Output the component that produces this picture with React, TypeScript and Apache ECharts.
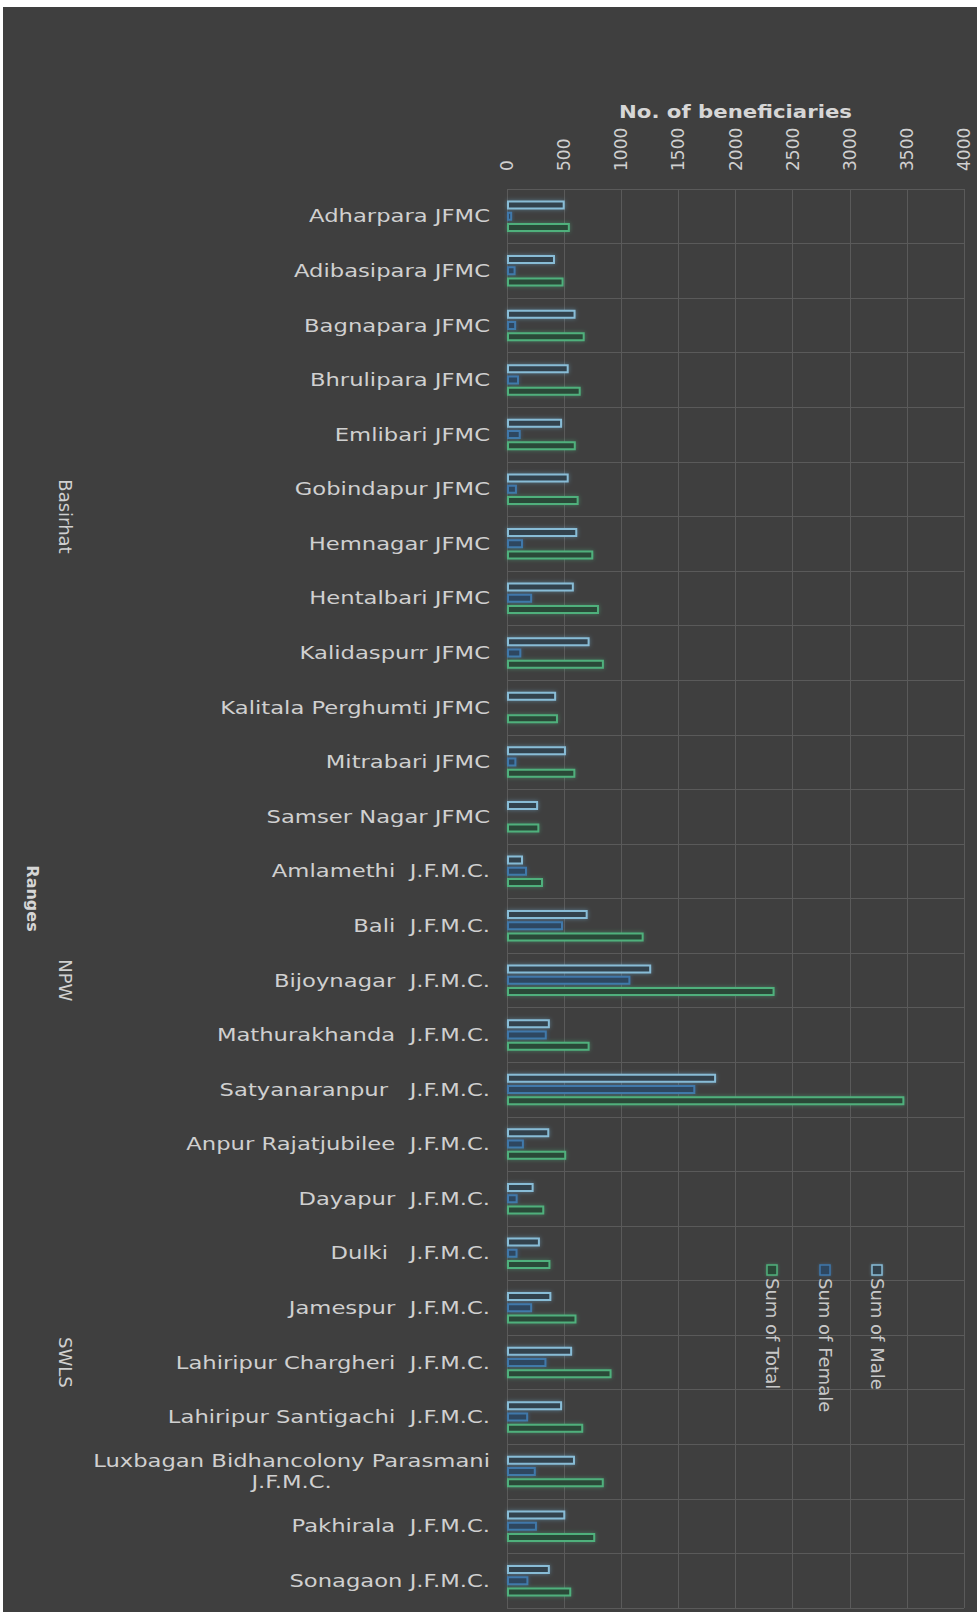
import React, { useEffect, useRef } from 'react';
import * as echarts from 'echarts';

// Joint Forest Management Committees, grouped by range
const categories = [
  'Adharpara JFMC',
  'Adibasipara JFMC',
  'Bagnapara JFMC',
  'Bhrulipara JFMC',
  'Emlibari JFMC',
  'Gobindapur JFMC',
  'Hemnagar JFMC',
  'Hentalbari JFMC',
  'Kalidaspurr JFMC',
  'Kalitala Perghumti JFMC',
  'Mitrabari JFMC',
  'Samser Nagar JFMC',
  'Amlamethi  J.F.M.C.',
  'Bali  J.F.M.C.',
  'Bijoynagar  J.F.M.C.',
  'Mathurakhanda  J.F.M.C.',
  'Satyanaranpur   J.F.M.C.',
  'Anpur Rajatjubilee  J.F.M.C.',
  'Dayapur  J.F.M.C.',
  'Dulki   J.F.M.C.',
  'Jamespur  J.F.M.C.',
  'Lahiripur Chargheri  J.F.M.C.',
  'Lahiripur Santigachi  J.F.M.C.',
  'Luxbagan Bidhancolony Parasmani\nJ.F.M.C.',
  'Pakhirala  J.F.M.C.',
  'Sonagaon J.F.M.C.',
];

const rangeNames = ['Basirhat', 'NPW', 'SWLS'];
const rangeSizes = [12, 5, 9];

const maleValues = [505, 420, 600, 540, 482, 540, 615, 585, 723, 430, 516, 272, 140, 706, 1262, 375, 1830, 370, 233, 288, 388, 570, 482, 595, 510, 375];
const femaleValues = [45, 75, 80, 105, 120, 87, 140, 220, 125, 16, 82, 11, 175, 490, 1080, 348, 1648, 148, 93, 92, 220, 345, 185, 252, 262, 187];
const totalValues = [550, 495, 680, 645, 602, 627, 755, 805, 848, 446, 598, 283, 315, 1196, 2342, 723, 3478, 518, 326, 380, 608, 915, 667, 847, 772, 562];

const seriesNames = ['Sum of Male', 'Sum of Female', 'Sum of Total'];

const axisMin = 0;
const axisMax = 4000;
const axisStep = 500;

const FONT = '"DejaVu Sans", "Noto Sans", sans-serif';
const TEXT = '#d0d0d0';

const seriesStyles = [
  { fill: '#33434e', stroke: '#88bcd6', glow: 'rgba(120,190,230,0.45)' },
  { fill: '#2f4760', stroke: '#3f78aa', glow: 'rgba(70,130,190,0.45)' },
  { fill: '#2c4838', stroke: '#4fb07c', glow: 'rgba(80,190,130,0.45)' },
];

export default function App() {
  const ref = useRef<HTMLDivElement>(null);

  useEffect(() => {
    const chart = echarts.init(ref.current!, null, { renderer: 'svg' });
    const seriesData = [maleValues, femaleValues, totalValues];

    chart.setOption({
      animation: false,
      backgroundColor: '#3f3f3f',
      grid: { left: 504, right: 13, top: 182, bottom: 4, containLabel: false },
      legend: { show: false },
      xAxis: {
        type: 'value',
        position: 'top',
        min: axisMin,
        max: axisMax,
        interval: axisStep,
        axisLine: { show: false },
        axisTick: { show: false },
        axisLabel: {
          rotate: -90,
          margin: 18,
          color: TEXT,
          fontSize: 17,
          fontFamily: FONT,
          formatter: (v: number) => String(v),
        },
        splitLine: { show: true, lineStyle: { color: '#5a5a5a', width: 1 } },
      },
      yAxis: {
        type: 'category',
        data: categories,
        inverse: true,
        axisLine: { show: false },
        axisTick: { show: false },
        axisLabel: { show: false },
        splitLine: { show: true, lineStyle: { color: '#5a5a5a', width: 1 } },
      },
      series: seriesNames.map((name, i) => ({
        type: 'bar',
        name,
        data: seriesData[i],
        barWidth: 9,
        barGap: '25%',
        silent: true,
        itemStyle: {
          color: seriesStyles[i].fill,
          borderColor: seriesStyles[i].stroke,
          borderWidth: 2,
          shadowBlur: 4,
          shadowColor: seriesStyles[i].glow,
        },
      })),
    });

    // Labels positioned from the axes' own scales
    const x0 = chart.convertToPixel({ xAxisIndex: 0 }, axisMin) as number;
    const x1 = chart.convertToPixel({ xAxisIndex: 0 }, axisMax) as number;
    const yOf = (i: number) => chart.convertToPixel({ yAxisIndex: 0 }, i) as number;
    const band = yOf(1) - yOf(0);
    const gridTop = yOf(0) - band / 2;
    const gridBottom = yOf(categories.length - 1) + band / 2;

    const graphics: any[] = [];

    graphics.push({
      type: 'text',
      x: (x0 + x1) / 2,
      y: 105,
      scaleX: 1.25,
      style: {
        text: 'No. of beneficiaries',
        align: 'center',
        verticalAlign: 'middle',
        font: `bold 17px ${FONT}`,
        fill: '#d6d6d6',
      },
    });

    categories.forEach((c, i) => {
      const rich = c.split('\n').map((l) => `{c|${l}}`).join('\n');
      graphics.push({
        type: 'text',
        x: x0 - 17,
        y: yOf(i),
        scaleX: 1.26,
        style: {
          text: rich,
          align: 'right',
          verticalAlign: 'middle',
          font: `18px ${FONT}`,
          fill: TEXT,
          rich: {
            c: { align: 'center', fontSize: 18, fontFamily: FONT, fill: TEXT, lineHeight: 21 },
          },
        },
      });
    });

    let start = 0;
    rangeNames.forEach((r, k) => {
      const first = start;
      const last = start + rangeSizes[k] - 1;
      start += rangeSizes[k];
      graphics.push({
        type: 'text',
        x: 62,
        y: (yOf(first) + yOf(last)) / 2,
        rotation: -Math.PI / 2,
        style: {
          text: r,
          align: 'center',
          verticalAlign: 'middle',
          font: `18px ${FONT}`,
          fill: TEXT,
        },
      });
    });

    graphics.push({
      type: 'text',
      x: 29,
      y: (gridTop + gridBottom) / 2,
      rotation: -Math.PI / 2,
      style: {
        text: 'Ranges',
        align: 'center',
        verticalAlign: 'middle',
        font: `bold 16px ${FONT}`,
        fill: '#d6d6d6',
      },
    });

    // Legend, set vertically in the lower right of the plot
    const legendX = [874, 822, 769];
    const legendY = 1263;
    seriesNames.forEach((name, i) => {
      graphics.push({
        type: 'rect',
        shape: { x: legendX[i] - 5, y: legendY - 5, width: 10, height: 10 },
        style: {
          fill: seriesStyles[i].fill,
          stroke: seriesStyles[i].stroke,
          lineWidth: 1.5,
          shadowBlur: 3,
          shadowColor: seriesStyles[i].glow,
        },
      });
      graphics.push({
        type: 'text',
        x: legendX[i],
        y: legendY + 8,
        rotation: -Math.PI / 2,
        style: {
          text: name,
          align: 'left',
          verticalAlign: 'middle',
          font: `18px ${FONT}`,
          fill: '#c8c8c8',
        },
      });
    });

    chart.setOption({ graphic: graphics });

    return () => chart.dispose();
  }, []);

  return (
    <div
      ref={ref}
      style={{ position: 'absolute', left: 3, top: 7, width: 974, height: 1605 }}
    />
  );
}
